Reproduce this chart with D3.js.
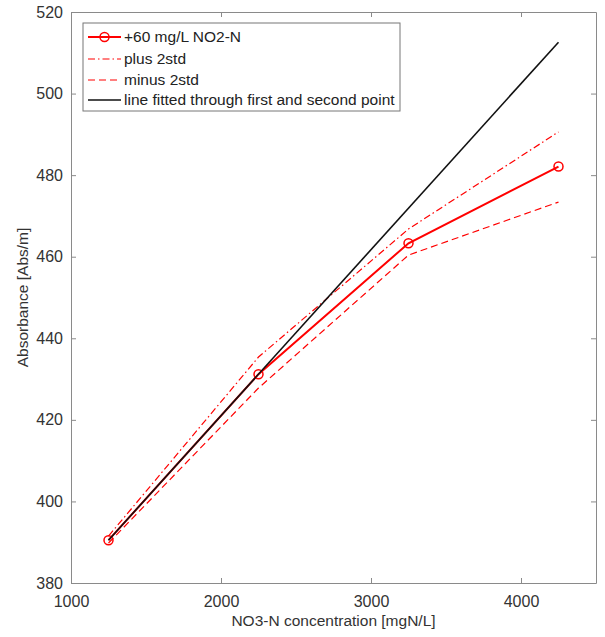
<!DOCTYPE html>
<html><head><meta charset="utf-8">
<script src="https://cdn.jsdelivr.net/npm/d3@7"></script>
<style>body{margin:0;background:#fff}svg{display:block}text{font-family:Arial,"Liberation Sans",sans-serif}</style>
</head><body><svg id="c" width="605" height="637"></svg>
<script>
const conc = [1250, 2250, 3250, 4250];
const absMain = [390.5, 431.2, 463.3, 482.1];
const absPlus = [391.5, 435.4, 466.8, 490.6];
const absMinus = [389.8, 427.8, 460.4, 473.4];
const fitX = [1250, 4250];
const fitY = [390.5, 512.6];
const xTicks = [1000, 2000, 3000, 4000];
const yTicks = [380, 400, 420, 440, 460, 480, 500, 520];
const legendLabels = ["+60 mg/L NO2-N", "plus 2std", "minus 2std", "line fitted through first and second point"];

const L = 71, R = 596, T = 12, B = 583;
const svg = d3.select("#c");
const x = d3.scaleLinear().domain([1000, 4500]).range([L, R]);
const y = d3.scaleLinear().domain([380, 520]).range([B, T]);
const axCol = "#8a8a8a", txtCol = "#333";

const gx = svg.append("g").attr("transform", `translate(0,${B})`)
  .call(d3.axisBottom(x).tickValues(xTicks).tickSizeInner(-5).tickSizeOuter(0).tickPadding(14).tickFormat(d3.format("d")));
const gxt = svg.append("g").attr("transform", `translate(0,${T})`)
  .call(d3.axisTop(x).tickValues(xTicks).tickSizeInner(-5).tickSizeOuter(0).tickFormat(""));
const gy = svg.append("g").attr("transform", `translate(${L},0)`)
  .call(d3.axisLeft(y).tickValues(yTicks).tickSizeInner(-5).tickSizeOuter(0).tickPadding(8).tickFormat(d3.format("d")));
const gyr = svg.append("g").attr("transform", `translate(${R},0)`)
  .call(d3.axisRight(y).tickValues(yTicks).tickSizeInner(-5).tickSizeOuter(0).tickFormat(""));
[gx, gxt, gy, gyr].forEach(g => {
  g.select(".domain").attr("stroke", axCol);
  g.selectAll(".tick line").attr("stroke", axCol);
  g.selectAll("text").attr("fill", txtCol).style("font-size", "16px").style("font-family", "Arial, 'Liberation Sans', sans-serif");
});
gx.selectAll("text").attr("dy", "0.71em").attr("y", 13);

svg.append("text").attr("x", (L + R) / 2).attr("y", 626).attr("text-anchor", "middle")
  .attr("fill", txtCol).style("font-size", "15.5px").text("NO3-N concentration [mgN/L]");
svg.append("text").attr("transform", `translate(28,${(T + B) / 2}) rotate(-90)`).attr("text-anchor", "middle")
  .attr("fill", txtCol).style("font-size", "15.5px").text("Absorbance [Abs/m]");

const line = d3.line().x(d => x(d[0])).y(d => y(d[1]));
const red = "#ff0000";
svg.append("path").datum(conc.map((v, i) => [v, absPlus[i]])).attr("d", line)
  .attr("fill", "none").attr("stroke", red).attr("stroke-width", 1.2).attr("stroke-dasharray", "7,3,1.5,3");
svg.append("path").datum(conc.map((v, i) => [v, absMinus[i]])).attr("d", line)
  .attr("fill", "none").attr("stroke", red).attr("stroke-width", 1.2).attr("stroke-dasharray", "7,4");
svg.append("path").datum(conc.map((v, i) => [v, absMain[i]])).attr("d", line)
  .attr("fill", "none").attr("stroke", red).attr("stroke-width", 2);
svg.selectAll("circle.m").data(conc.map((v, i) => [v, absMain[i]])).enter().append("circle")
  .attr("cx", d => x(d[0])).attr("cy", d => y(d[1])).attr("r", 4.5)
  .attr("fill", "none").attr("stroke", red).attr("stroke-width", 1.5);
svg.append("path").datum(fitX.map((v, i) => [v, fitY[i]])).attr("d", line)
  .attr("fill", "none").attr("stroke", "#111").attr("stroke-width", 1.6);

const lg = svg.append("g");
lg.append("rect").attr("x", 83).attr("y", 23).attr("width", 317).attr("height", 88)
  .attr("fill", "#fff").attr("stroke", "#777").attr("stroke-width", 1);
const styles = [
  {c: red, w: 2, d: null, m: true},
  {c: red, w: 1.2, d: "7,3,1.5,3"},
  {c: red, w: 1.2, d: "7,4"},
  {c: "#111", w: 1.6, d: null}
];
const rowY = [37, 59, 80, 100];
legendLabels.forEach((t, i) => {
  const s = styles[i];
  lg.append("line").attr("x1", 88).attr("x2", 121).attr("y1", rowY[i]).attr("y2", rowY[i])
    .attr("stroke", s.c).attr("stroke-width", s.w).attr("stroke-dasharray", s.d);
  if (s.m) lg.append("circle").attr("cx", 104.5).attr("cy", rowY[i]).attr("r", 4.5)
    .attr("fill", "none").attr("stroke", red).attr("stroke-width", 1.5);
  lg.append("text").attr("x", 124).attr("y", rowY[i]).attr("dy", "0.35em").attr("fill", "#222")
    .style("font-size", "15.5px").text(t);
});
</script></body></html>
